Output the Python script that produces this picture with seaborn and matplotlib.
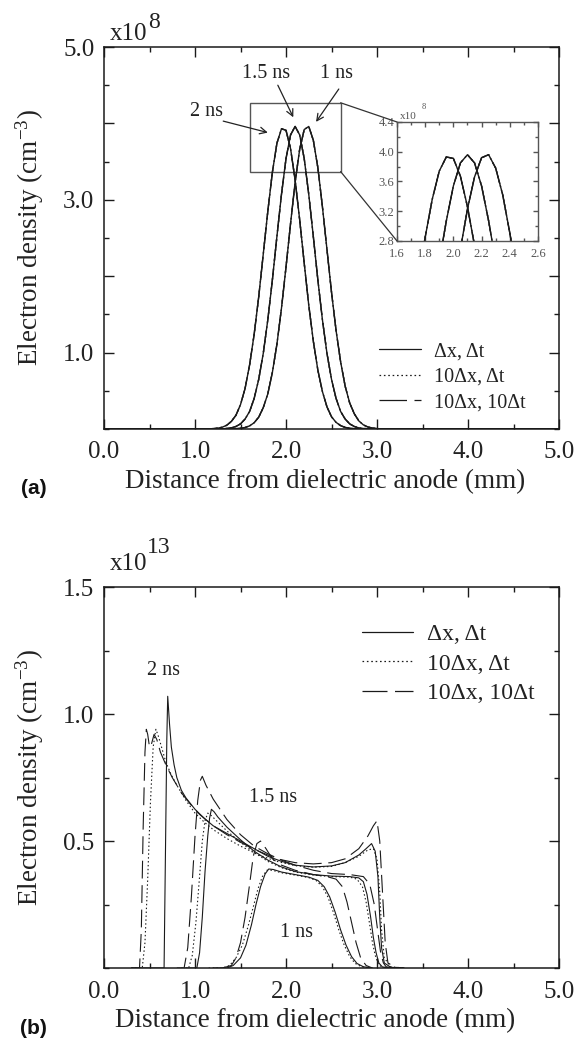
import matplotlib
matplotlib.use("Agg")
import matplotlib.pyplot as plt
import seaborn as sns
from matplotlib.lines import Line2D
from matplotlib.patches import Rectangle, ConnectionPatch
from matplotlib.ticker import MultipleLocator, FixedLocator, FixedFormatter

# ---------------- data: panel (a) ----------------
x_a = [0.0, 1.00, 1.05, 1.10, 1.15, 1.20, 1.25, 1.30, 1.35, 1.40, 1.45,
       1.50, 1.55, 1.60, 1.65, 1.70, 1.75, 1.80, 1.85, 1.90, 1.95,
       2.00, 2.05, 2.10, 2.15, 2.20, 2.25, 2.30, 2.35, 2.40, 2.45,
       2.50, 2.55, 2.60, 2.65, 2.70, 2.75, 2.80, 2.85, 2.90, 2.95,
       3.00, 3.05, 3.10, 5.0]
y_a_2ns = [0, 0, 0, 0.001, 0.002, 0.005, 0.011, 0.024, 0.05, 0.10, 0.18,
           0.32, 0.53, 0.84, 1.24, 1.73, 2.29, 2.85, 3.36, 3.74, 3.93,
           3.91, 3.67, 3.26, 2.74, 2.17, 1.62, 1.15, 0.77, 0.49, 0.29,
           0.16, 0.087, 0.044, 0.021, 0.009, 0.004, 0.001, 0, 0, 0,
           0, 0, 0, 0]
y_a_15ns = [0, 0, 0, 0, 0, 0, 0.001, 0.003, 0.007, 0.015, 0.033,
            0.067, 0.13, 0.23, 0.40, 0.65, 0.99, 1.43, 1.95, 2.52, 3.07,
            3.54, 3.85, 3.96, 3.85, 3.54, 3.07, 2.52, 1.95, 1.43, 0.99,
            0.65, 0.40, 0.23, 0.13, 0.067, 0.033, 0.015, 0.007, 0.003, 0.001,
            0, 0, 0, 0]
y_a_1ns = [0, 0, 0, 0, 0, 0, 0, 0, 0, 0.0015, 0.004,
           0.009, 0.019, 0.041, 0.082, 0.155, 0.28, 0.46, 0.74, 1.11, 1.58,
           2.12, 2.69, 3.23, 3.66, 3.92, 3.96, 3.78, 3.42, 2.91, 2.35,
           1.79, 1.29, 0.88, 0.56, 0.34, 0.20, 0.106, 0.054, 0.026, 0.012,
           0.005, 0.002, 0, 0]

# ---------------- data: panel (b) ----------------
b2_solid_x = [0.30, 0.66, 0.675, 0.69, 0.70, 0.72, 0.74, 0.77, 0.80, 0.85, 0.90, 1.00,
              1.10, 1.20, 1.35, 1.50, 1.65, 1.80, 1.95, 2.10, 2.30, 2.50, 2.65, 2.80,
              2.88, 2.94, 2.98, 3.01, 3.03, 3.05, 3.08, 3.15, 3.30]
b2_solid_y = [0.0, 0.0, 0.45, 0.90, 1.07, 0.96, 0.87, 0.80, 0.75, 0.70, 0.67, 0.625,
              0.59, 0.56, 0.53, 0.50, 0.47, 0.44, 0.42, 0.405, 0.398, 0.402, 0.415, 0.445,
              0.47, 0.49, 0.46, 0.36, 0.20, 0.08, 0.02, 0.003, 0.0]
b2_dot_x = [0.30, 0.42, 0.45, 0.48, 0.51, 0.54, 0.57, 0.60, 0.64, 0.68, 0.74, 0.80,
            0.90, 1.00, 1.10, 1.20, 1.35, 1.50, 1.70, 1.90, 2.10, 2.30, 2.50, 2.65,
            2.80, 2.90, 2.96, 3.00, 3.03, 3.05, 3.08, 3.15, 3.30]
b2_dot_y = [0.0, 0.0, 0.10, 0.35, 0.65, 0.87, 0.94, 0.91, 0.86, 0.81, 0.76, 0.72,
            0.66, 0.61, 0.575, 0.545, 0.51, 0.48, 0.445, 0.42, 0.403, 0.397, 0.40, 0.415,
            0.44, 0.465, 0.47, 0.43, 0.30, 0.15, 0.04, 0.005, 0.0]
b2_dash_x = [0.30, 0.39, 0.41, 0.43, 0.45, 0.465, 0.48, 0.50, 0.52, 0.55, 0.58, 0.62,
             0.68, 0.75, 0.85, 0.95, 1.05, 1.20, 1.35, 1.50, 1.70, 1.90, 2.10, 2.30,
             2.50, 2.65, 2.80, 2.90, 2.96, 3.00, 3.03, 3.06, 3.09, 3.12, 3.20, 3.30]
b2_dash_y = [0.0, 0.0, 0.15, 0.55, 0.85, 0.94, 0.92, 0.87, 0.88, 0.92, 0.90, 0.85,
             0.80, 0.75, 0.69, 0.645, 0.605, 0.56, 0.525, 0.495, 0.46, 0.43, 0.415, 0.41,
             0.415, 0.43, 0.47, 0.52, 0.56, 0.58, 0.50, 0.30, 0.10, 0.02, 0.003, 0.0]

b15_solid_x = [0.90, 1.02, 1.05, 1.08, 1.11, 1.14, 1.16, 1.18, 1.21, 1.25, 1.35, 1.50,
               1.65, 1.80, 1.95, 2.10, 2.30, 2.50, 2.70, 2.80, 2.85, 2.89, 2.93, 2.96,
               2.99, 3.02, 3.06, 3.15]
b15_solid_y = [0.0, 0.0, 0.06, 0.20, 0.38, 0.52, 0.59, 0.625, 0.615, 0.595, 0.555, 0.505,
               0.46, 0.425, 0.398, 0.38, 0.368, 0.362, 0.36, 0.355, 0.34, 0.29, 0.20, 0.12,
               0.06, 0.02, 0.004, 0.0]
b15_dot_x = [0.85, 0.93, 0.97, 1.01, 1.05, 1.08, 1.11, 1.14, 1.18, 1.25, 1.35, 1.50,
             1.65, 1.80, 1.95, 2.10, 2.30, 2.50, 2.70, 2.78, 2.84, 2.88, 2.92, 2.95,
             2.98, 3.02, 3.10]
b15_dot_y = [0.0, 0.0, 0.05, 0.18, 0.36, 0.50, 0.58, 0.61, 0.60, 0.575, 0.54, 0.495,
             0.455, 0.42, 0.395, 0.378, 0.366, 0.36, 0.358, 0.35, 0.32, 0.26, 0.17, 0.10,
             0.05, 0.01, 0.0]
b15_dash_x = [0.80, 0.88, 0.92, 0.96, 1.00, 1.03, 1.06, 1.08, 1.12, 1.20, 1.35, 1.50,
              1.65, 1.80, 1.95, 2.10, 2.30, 2.50, 2.70, 2.85, 2.92, 2.97, 3.01, 3.04,
              3.07, 3.10, 3.18]
b15_dash_y = [0.0, 0.0, 0.08, 0.28, 0.52, 0.66, 0.74, 0.755, 0.72, 0.665, 0.585, 0.525,
              0.48, 0.45, 0.425, 0.405, 0.385, 0.372, 0.368, 0.36, 0.33, 0.25, 0.14, 0.06,
              0.02, 0.005, 0.0]

b1_solid_x = [1.20, 1.35, 1.42, 1.50, 1.56, 1.62, 1.67, 1.72, 1.77, 1.81, 1.86, 1.95,
              2.10, 2.25, 2.35, 2.42, 2.48, 2.54, 2.60, 2.66, 2.72, 2.78, 2.85, 2.95]
b1_solid_y = [0.0, 0.0, 0.01, 0.04, 0.09, 0.17, 0.25, 0.32, 0.37, 0.39, 0.388, 0.378,
              0.368, 0.358, 0.345, 0.32, 0.28, 0.22, 0.15, 0.09, 0.045, 0.018, 0.005, 0.0]
b1_dot_x = [1.15, 1.30, 1.38, 1.45, 1.52, 1.58, 1.64, 1.69, 1.74, 1.79, 1.85, 1.95,
            2.10, 2.25, 2.33, 2.40, 2.46, 2.52, 2.58, 2.64, 2.70, 2.76, 2.83, 2.93]
b1_dot_y = [0.0, 0.0, 0.01, 0.04, 0.09, 0.16, 0.24, 0.31, 0.36, 0.385, 0.385, 0.375,
            0.366, 0.356, 0.345, 0.32, 0.28, 0.22, 0.15, 0.09, 0.045, 0.018, 0.005, 0.0]
b1_dash_x = [1.30, 1.40, 1.45, 1.50, 1.55, 1.60, 1.64, 1.68, 1.72, 1.78, 1.85, 1.95,
             2.10, 2.30, 2.45, 2.55, 2.62, 2.67, 2.72, 2.77, 2.82, 2.88, 2.95]
b1_dash_y = [0.0, 0.01, 0.04, 0.10, 0.20, 0.33, 0.44, 0.49, 0.50, 0.47, 0.43, 0.405,
             0.385, 0.368, 0.36, 0.35, 0.32, 0.26, 0.18, 0.10, 0.04, 0.01, 0.0]

legend_labels = ["\u0394x, \u0394t", "10\u0394x, \u0394t", "10\u0394x, 10\u0394t"]
x_ticklabels = ["0.0", "1.0", "2.0", "3.0", "4.0", "5.0"]
ya_ticklabels = ["1.0", "", "3.0", "", "5.0"]
yb_ticklabels = ["0.5", "1.0", "1.5"]
inset_xlabels = ["1.6", "1.8", "2.0", "2.2", "2.4", "2.6"]
inset_ylabels = ["2.8", "3.2", "3.6", "4.0", "4.4"]

# ---------------- style ----------------
sns.set_theme(style="ticks")
plt.rcParams["font.family"] = ["Liberation Serif", "DejaVu Serif"]
plt.rcParams["mathtext.fontset"] = "custom"
plt.rcParams["mathtext.rm"] = "Liberation Serif"
plt.rcParams["mathtext.it"] = "Liberation Serif:italic"
plt.rcParams["mathtext.bf"] = "Liberation Serif:bold"

INK = "#1a1a1a"
TXT = "#222222"
GRAY = "#555555"
DOT = (1.3, 2.2)
DASH = (16, 6)

fig = plt.figure(figsize=(5.75, 10.4), dpi=100)
ax_a = fig.add_axes([0.1809, 0.5875, 0.7913, 0.3673])
ax_b = fig.add_axes([0.1809, 0.0692, 0.7913, 0.3663])
ax_in = fig.add_axes([0.6904, 0.7683, 0.2452, 0.1144])


def draw(ax, x, y, kind, lw):
    sns.lineplot(x=x, y=y, ax=ax, estimator=None, sort=False, color=INK,
                 linewidth=lw, legend=False)
    line = ax.lines[-1]
    if kind == "dotted":
        line.set_dashes(DOT)
    elif kind == "dashed":
        line.set_dashes(DASH)
    line.set_solid_capstyle("butt")


def style_axes(ax, fs, major_len, minor_len, lw=1.1, color=INK):
    for sp in ax.spines.values():
        sp.set_color(color)
        sp.set_linewidth(lw)
        sp.set_visible(True)
    ax.tick_params(which="both", direction="in", top=True, right=True,
                   color=color, width=1.0, labelsize=fs, labelcolor=TXT)
    ax.tick_params(which="major", length=major_len)
    ax.tick_params(which="minor", length=minor_len)
    ax.set_facecolor("white")


# ---------------- panel (a) ----------------
for yy in (y_a_2ns, y_a_15ns, y_a_1ns):
    for kind in ("solid", "dotted", "dashed"):
        draw(ax_a, x_a, yy, kind, 1.0)
ax_a.set_xlim(0, 5)
ax_a.set_ylim(0, 5)
style_axes(ax_a, 18, 7, 3.5)
ax_a.xaxis.set_major_locator(FixedLocator([0, 1, 2, 3, 4, 5]))
ax_a.xaxis.set_major_formatter(FixedFormatter(x_ticklabels))
ax_a.xaxis.set_minor_locator(MultipleLocator(0.5))
ax_a.yaxis.set_major_locator(FixedLocator([1, 2, 3, 4, 5]))
ax_a.yaxis.set_major_formatter(FixedFormatter(ya_ticklabels))
ax_a.yaxis.set_minor_locator(MultipleLocator(0.5))
ax_a.tick_params(axis="x", which="major", pad=9)
ax_a.tick_params(axis="y", which="major", pad=7)
ax_a.set_xlabel("Distance from dielectric anode (mm)", fontsize=19.5, color=TXT)
ax_a.set_ylabel("Electron density (cm$^{-3}$)", fontsize=19.5, color=TXT)
ax_a.xaxis.set_label_coords(0.487, -0.105)
ax_a.yaxis.set_label_coords(-0.128, 0.5)

# zoom rectangle + connectors
ax_a.add_patch(Rectangle((1.6, 3.37), 1.0, 0.90, fill=False, edgecolor=GRAY, lw=1.0))
for ya, yb in ((4.27, 1.0), (3.37, 0.0)):
    con = ConnectionPatch(xyA=(2.6, ya), coordsA=ax_a.transData,
                          xyB=(0.0, yb), coordsB=ax_in.transAxes,
                          color="#333333", lw=0.9)
    fig.add_artist(con)

# time labels and arrows
arrow_kw = dict(arrowstyle="->", lw=0.9, color=TXT, shrinkA=0, shrinkB=0)
ax_a.text(1.78, 4.65, "1.5 ns", fontsize=14.5, color=TXT, ha="center", va="center")
ax_a.annotate("", xy=(2.08, 4.08), xytext=(1.91, 4.50), arrowprops=arrow_kw)
ax_a.text(1.13, 4.15, "2 ns", fontsize=14.5, color=TXT, ha="center", va="center")
ax_a.annotate("", xy=(1.80, 3.88), xytext=(1.31, 4.03), arrowprops=arrow_kw)
ax_a.text(2.56, 4.65, "1 ns", fontsize=14.5, color=TXT, ha="center", va="center")
ax_a.annotate("", xy=(2.33, 4.02), xytext=(2.58, 4.45), arrowprops=arrow_kw)

# legend handles
def handles(lw, dash, dot):
    return [Line2D([0], [0], color=INK, lw=lw),
            Line2D([0], [0], color=INK, lw=lw, dashes=dot),
            Line2D([0], [0], color=INK, lw=lw, dashes=dash)]

ax_a.legend(handles(0.9, (22, 6), (1.3, 2.2)), legend_labels, loc="upper left",
            bbox_to_anchor=(0.604, 0.227), frameon=False, fontsize=14.5,
            handlelength=2.1, handletextpad=0.65, labelspacing=0.32,
            borderpad=0, borderaxespad=0, labelcolor=TXT)

# ---------------- inset ----------------
for yy in (y_a_2ns, y_a_15ns, y_a_1ns):
    for kind in ("solid", "dotted", "dashed"):
        draw(ax_in, x_a, yy, kind, 1.0)
ax_in.set_xlim(1.6, 2.6)
ax_in.set_ylim(2.8, 4.4)
style_axes(ax_in, 9, 3.5, 2, lw=1.0, color=GRAY)
ax_in.tick_params(which="both", labelcolor=GRAY)
ax_in.tick_params(axis="x", which="both", pad=5)
ax_in.tick_params(axis="y", which="both", pad=2)
ax_in.xaxis.set_major_locator(FixedLocator([1.6, 1.8, 2.0, 2.2, 2.4, 2.6]))
ax_in.xaxis.set_major_formatter(FixedFormatter(inset_xlabels))
ax_in.xaxis.set_minor_locator(MultipleLocator(0.1))
ax_in.yaxis.set_major_locator(FixedLocator([2.8, 3.2, 3.6, 4.0, 4.4]))
ax_in.yaxis.set_major_formatter(FixedFormatter(inset_ylabels))
ax_in.yaxis.set_minor_locator(MultipleLocator(0.2))
ax_in.set_xlabel("")
ax_in.set_ylabel("")

# ---------------- panel (b) ----------------
curves_b = [(b2_solid_x, b2_solid_y, "solid"), (b2_dot_x, b2_dot_y, "dotted"),
            (b2_dash_x, b2_dash_y, "dashed"),
            (b15_solid_x, b15_solid_y, "solid"), (b15_dot_x, b15_dot_y, "dotted"),
            (b15_dash_x, b15_dash_y, "dashed"),
            (b1_solid_x, b1_solid_y, "solid"), (b1_dot_x, b1_dot_y, "dotted"),
            (b1_dash_x, b1_dash_y, "dashed")]
for xx, yy, kind in curves_b:
    draw(ax_b, xx, yy, kind, 0.8)
ax_b.set_xlim(0, 5)
ax_b.set_ylim(0, 1.5)
style_axes(ax_b, 18, 7, 3.5)
ax_b.xaxis.set_major_locator(FixedLocator([0, 1, 2, 3, 4, 5]))
ax_b.xaxis.set_major_formatter(FixedFormatter(x_ticklabels))
ax_b.xaxis.set_minor_locator(MultipleLocator(0.5))
ax_b.yaxis.set_major_locator(FixedLocator([0.5, 1.0, 1.5]))
ax_b.yaxis.set_major_formatter(FixedFormatter(yb_ticklabels))
ax_b.yaxis.set_minor_locator(MultipleLocator(0.25))
ax_b.tick_params(axis="x", which="major", pad=9)
ax_b.tick_params(axis="y", which="major", pad=7)
ax_b.set_xlabel("Distance from dielectric anode (mm)", fontsize=19.5, color=TXT)
ax_b.set_ylabel("Electron density (cm$^{-3}$)", fontsize=19.5, color=TXT)
ax_b.xaxis.set_label_coords(0.464, -0.105)
ax_b.yaxis.set_label_coords(-0.128, 0.5)

ax_b.text(0.65, 1.17, "2 ns", fontsize=14.5, color=TXT, ha="center", va="center")
ax_b.text(1.86, 0.67, "1.5 ns", fontsize=14.5, color=TXT, ha="center", va="center")
ax_b.text(2.11, 0.14, "1 ns", fontsize=14.5, color=TXT, ha="center", va="center")

ax_b.legend(handles(0.9, (20, 6), (1.3, 2.2)), legend_labels, loc="upper left",
            bbox_to_anchor=(0.567, 0.905), frameon=False, fontsize=17,
            handlelength=2.15, handletextpad=0.62, labelspacing=0.35,
            borderpad=0, borderaxespad=0, labelcolor=TXT)

# ---------------- multipliers and panel tags ----------------
W, H = 575.0, 1040.0
def ftext(px, py, s, **kw):
    fig.text(px / W, 1 - py / H, s, va="baseline", ha="left", color=TXT, **kw)

ftext(110, 40, "x10", fontsize=18)
ftext(148, 28, "8", fontsize=17)
ftext(110, 570, "x10", fontsize=18)
ftext(147, 553, "13", fontsize=17)
fig.text(400 / W, 1 - 119 / H, "x10", fontsize=8, color=GRAY, va="baseline", ha="left")
fig.text(422 / W, 1 - 109 / H, "8", fontsize=6, color=GRAY, va="baseline", ha="left")

fig.text(34 / W, 1 - 488 / H, "(a)", fontsize=15, fontweight="bold",
         family="Liberation Sans", color="#111111", ha="center", va="center")
fig.text(33 / W, 1 - 1028 / H, "(b)", fontsize=15, fontweight="bold",
         family="Liberation Sans", color="#111111", ha="center", va="center")

fig.savefig("out.png", dpi=100, facecolor="white")
